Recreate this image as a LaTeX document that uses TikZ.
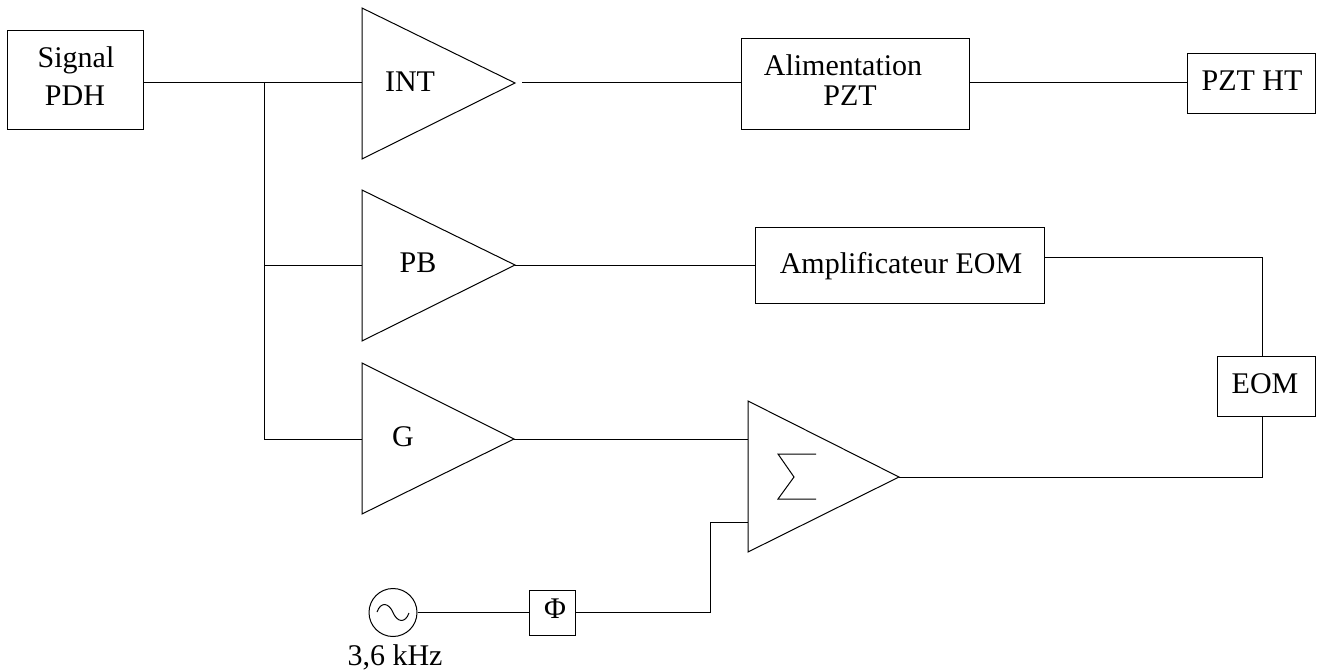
\documentclass[tikz,border=0pt]{standalone}
\usepackage{fontspec}
\setmainfont{Liberation Serif}
\begin{document}
\begin{tikzpicture}[x=1pt,y=-1pt,
  wire/.style={line width=1pt,line join=miter},
  blockbox/.style={draw,line width=1.2pt,inner sep=0pt,anchor=north west},
  lbl/.style={inner sep=0pt,anchor=base,font=\fontsize{30}{32}\selectfont}]
\useasboundingbox (0,0) rectangle (1319,671);
% boxes
\node[blockbox,minimum width=136pt,minimum height=99pt] (sig) at (7,30) {};
\node[blockbox,minimum width=228pt,minimum height=91pt] (ali) at (741,38) {};
\node[blockbox,minimum width=128pt,minimum height=60pt] (pzt) at (1187,53) {};
\node[blockbox,minimum width=289pt,minimum height=76pt] (amp) at (755,227) {};
\node[blockbox,minimum width=98pt,minimum height=60pt] (eom) at (1217,356) {};
\node[blockbox,minimum width=46pt,minimum height=45pt] (phi) at (529,590) {};
\node[draw,circle,line width=1pt,minimum size=48pt,inner sep=0pt] (osc) at (393,612.5) {};
% triangles
\coordinate (intA) at (515,83);
\coordinate (pbA) at (515,265);
\coordinate (gA) at (514,439);
\coordinate (sumA) at (899,477);
\draw[wire] (362,8) -- (intA) -- (362,159) -- cycle;
\draw[wire] (362,190) -- (pbA) -- (362,341) -- cycle;
\draw[wire] (362,363) -- (gA) -- (362,514) -- cycle;
\draw[wire] (748,401) -- (sumA) -- (748,552) -- cycle;
% named ports
\coordinate (intI) at (362,83);
\coordinate (pbI) at (362,265);
\coordinate (gI) at (362,439);
\coordinate (sumI1) at (748,439);
\coordinate (sumI2) at (748,522);
\coordinate (intO) at (522,83);
\coordinate (trunk) at (264,83);
\coordinate (tpb) at (264,265);
\coordinate (tg) at (264,439);
\coordinate (c1) at (1262,257);
\coordinate (c2) at (1262,477);
\coordinate (c3) at (710,612.5);
\coordinate (c4) at (710,522);
% wires
\draw[wire] (sig.east|-intI) -- (intI);
\draw[wire] (trunk) -- (tg) -- (gI);
\draw[wire] (tpb) -- (pbI);
\draw[wire] (intO) -- (ali.west|-intO);
\draw[wire] (ali.east|-intO) -- (pzt.west|-intO);
\draw[wire] (pbA) -- (amp.west|-pbA);
\draw[wire] (amp.east|-c1) -- (c1) -- (eom.north-|c1);
\draw[wire] (eom.south-|c2) -- (c2) -- (sumA);
\draw[wire] (gA) -- (sumI1);
\draw[wire] (osc.east) -- (phi.west|-osc.east);
\draw[wire] (phi.east|-c3) -- (c3) -- (c4) -- (sumI2);
% sigma
\draw[wire] (816,454) -- (778,454) -- (794,477) -- (778,499) -- (816,499);
\draw[line width=1pt] (377,612) .. controls (381,601) and (389,603) .. (393,612.5) .. controls (397,622) and (405,624) .. (409,613);
% labels
\node[lbl] (tsig) at (76,68) {Signal};
\node[lbl] (tpdh) at (75,106) {PDH};
\node[lbl] (tint) at (410,92) {INT};
\node[lbl] (tpb2) at (418,272) {PB};
\node[lbl] (tg2) at (403,446) {G};
\node[lbl] (tali) at (843,76) {Alimentation};
\node[lbl] (tpz) at (850,106) {PZT};
\node[lbl] (thv) at (1252,91) {PZT HT};
\node[lbl] (tamp) at (901,273) {Amplificateur EOM};
\node[lbl] (teom) at (1265,393) {EOM};
\node[lbl] (tphi) at (555,618) {Φ};
\node[lbl] (tkhz) at (395,665) {3,6 kHz};
\end{tikzpicture}
\end{document}
